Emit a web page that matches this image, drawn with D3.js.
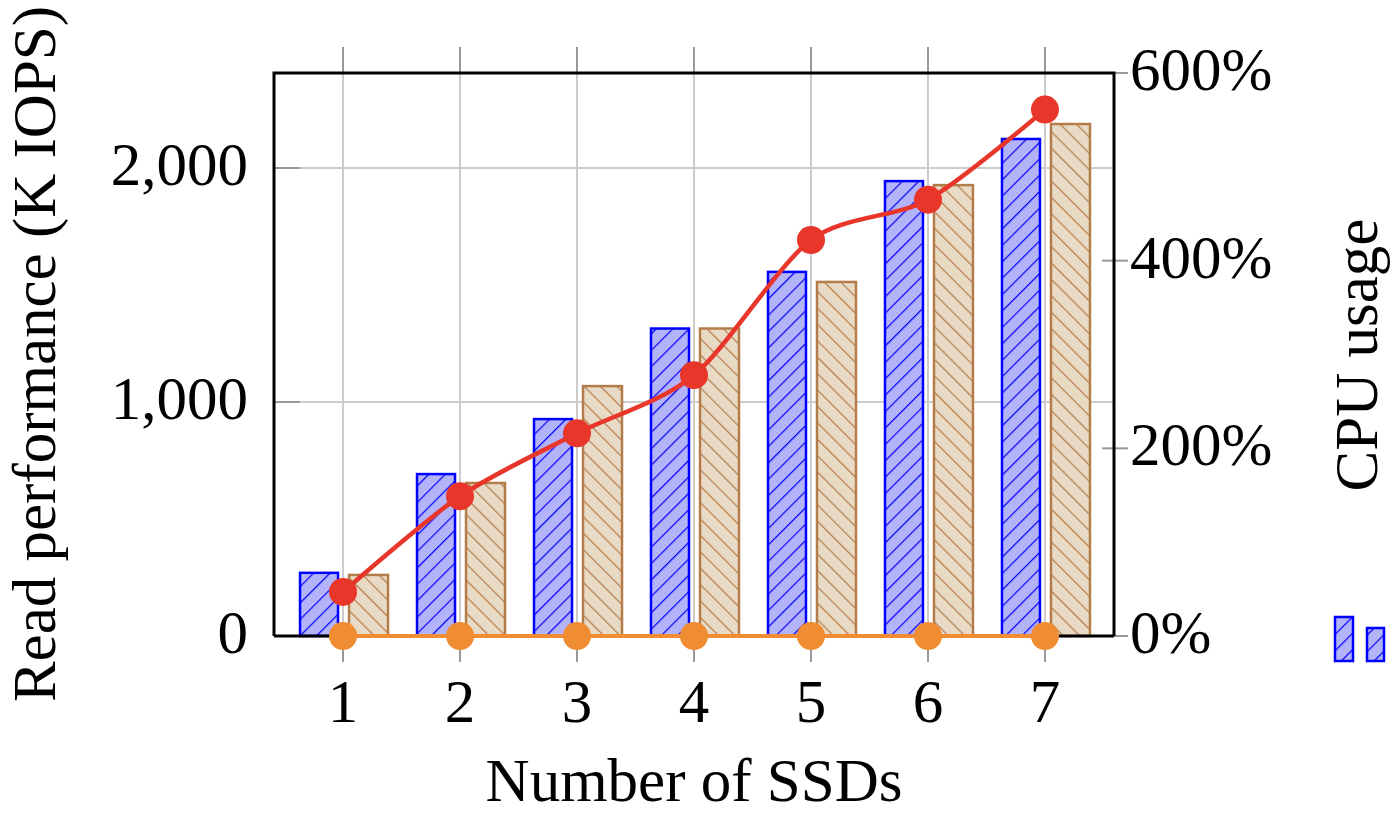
<!DOCTYPE html>
<html>
<head>
<meta charset="utf-8">
<script src="https://cdn.jsdelivr.net/npm/d3@7"></script>
<style>
  html, body { margin: 0; padding: 0; background: #fff; }
  svg { display: block; font-family: "Liberation Serif", "DejaVu Serif", serif; }
</style>
</head>
<body>
<svg id="chart" width="1393" height="815"></svg>
<script>
// Number of SSDs on the x axis
const ssds = [1, 2, 3, 4, 5, 6, 7];
// Read performance in K IOPS, two configurations
const iopsA = [270, 692, 927, 1314, 1556, 1944, 2124];
const iopsB = [261, 654, 1068, 1314, 1513, 1927, 2188];
// CPU usage (%) on the right axis
const cpuA = [47, 149, 216, 278, 422, 465, 561];
const cpuB = [0, 0, 0, 0, 0, 0, 0];
// Tick values
const leftTicks = [0, 1000, 2000];
const rightTicks = [0, 200, 400, 600];

const svg = d3.select("#chart");
const L = 274, R = 1114, T = 73, B = 636;
const FS = 61;

const x = d3.scaleLinear().domain([0.41, 7.59]).range([L, R]);
const yL = d3.scaleLinear().domain([0, 2406]).range([B, T]);
const yR = d3.scaleLinear().domain([0, 600]).range([B, T]);

// hatch patterns
const defs = svg.append("defs");
function hatch(id, angle, color) {
  const p = defs.append("pattern")
    .attr("id", id)
    .attr("patternUnits", "userSpaceOnUse")
    .attr("width", 11.6).attr("height", 11.6)
    .attr("patternTransform", `rotate(${angle})`);
  p.append("line").attr("x1", 0).attr("y1", -2).attr("x2", 0).attr("y2", 14)
    .attr("stroke", color).attr("stroke-width", 2.4);
}
hatch("hatchBlue", 45, "#0000ff");
hatch("hatchTan", -45, "#b47c4a");

// grid
const grid = svg.append("g");
grid.selectAll("line.v").data(ssds).join("line")
  .attr("x1", d => x(d)).attr("x2", d => x(d))
  .attr("y1", T).attr("y2", B)
  .attr("stroke", "#cccccc").attr("stroke-width", 2);
grid.selectAll("line.h").data(leftTicks.filter(d => d > 0)).join("line")
  .attr("x1", L).attr("x2", R)
  .attr("y1", d => yL(d)).attr("y2", d => yL(d))
  .attr("stroke", "#cccccc").attr("stroke-width", 2);

// ticks (outer x ticks, inner left ticks, crossing right ticks)
const ticks = svg.append("g").attr("stroke", "#999").attr("stroke-width", 2);
ticks.selectAll("line.xt").data(ssds).join("line")
  .attr("x1", d => x(d)).attr("x2", d => x(d)).attr("y1", T - 26).attr("y2", T);
ticks.selectAll("line.xb").data(ssds).join("line")
  .attr("x1", d => x(d)).attr("x2", d => x(d)).attr("y1", B).attr("y2", B + 26);
ticks.selectAll("line.yl").data(leftTicks).join("line")
  .attr("x1", L).attr("x2", L + 26).attr("y1", d => yL(d)).attr("y2", d => yL(d));
ticks.selectAll("line.yr").data(rightTicks).join("line")
  .attr("x1", R - 12).attr("x2", R + 14).attr("y1", d => yR(d)).attr("y2", d => yR(d));

// bars
const bars = svg.append("g");
function drawBars(vals, dx0, dx1, fill, stroke, pat) {
  const g = bars.append("g");
  const rect = (sel) => sel
    .attr("x", (d, i) => x(ssds[i]) + dx0)
    .attr("width", dx1 - dx0)
    .attr("y", d => yL(d))
    .attr("height", d => B - yL(d));
  g.selectAll("rect.f").data(vals).join("rect").call(rect).attr("fill", fill);
  g.selectAll("rect.p").data(vals).join("rect").call(rect)
    .attr("fill", `url(#${pat})`).attr("stroke", stroke).attr("stroke-width", 2.5);
}
drawBars(iopsA, -43, -5, "#b3b3fa", "#0000ff", "hatchBlue");
drawBars(iopsB, 6, 45, "#e9dac6", "#b47c4a", "hatchTan");

// frame
const frame = svg.append("g").attr("fill", "none").attr("stroke", "#000").attr("stroke-width", 3);
frame.append("path").attr("d", `M${L},${B}V${T}H${R}V${B}`);
frame.append("line").attr("x1", L).attr("x2", R).attr("y1", B).attr("y2", B);

// CPU usage lines
const lineB = d3.line().x((d, i) => x(ssds[i])).y(d => yR(d));
svg.append("path").datum(cpuB).attr("d", lineB)
  .attr("fill", "none").attr("stroke", "#f08c32").attr("stroke-width", 4);
svg.append("g").selectAll("circle").data(cpuB).join("circle")
  .attr("cx", (d, i) => x(ssds[i])).attr("cy", d => yR(d)).attr("r", 14)
  .attr("fill", "#f08c32");

const lineA = d3.line().x((d, i) => x(ssds[i])).y(d => yR(d))
  .curve(d3.curveCardinal.tension(0.15));
svg.append("path").datum(cpuA).attr("d", lineA)
  .attr("fill", "none").attr("stroke", "#e8362a").attr("stroke-width", 4.5);
svg.append("g").selectAll("circle").data(cpuA).join("circle")
  .attr("cx", (d, i) => x(ssds[i])).attr("cy", d => yR(d)).attr("r", 14)
  .attr("fill", "#e8362a");

// tick labels
const fmt = d3.format(",");
svg.append("g").selectAll("text").data(leftTicks).join("text")
  .attr("x", 248).attr("y", d => yL(d) + 17)
  .attr("text-anchor", "end").attr("font-size", FS).text(d => fmt(d));
svg.append("g").selectAll("text").data(rightTicks).join("text")
  .attr("x", 1130).attr("y", d => yR(d) + 17)
  .attr("font-size", FS).text(d => d + "%");
svg.append("g").selectAll("text").data(ssds).join("text")
  .attr("x", d => x(d)).attr("y", 722)
  .attr("text-anchor", "middle").attr("font-size", FS).text(d => d);

// axis titles
svg.append("text").attr("x", 694).attr("y", 801).attr("text-anchor", "middle")
  .attr("font-size", FS).text("Number of SSDs");
svg.append("text").attr("transform", "translate(55,354) rotate(-90)")
  .attr("text-anchor", "middle").attr("font-size", FS).text("Read performance (K IOPS)");
svg.append("text").attr("transform", "translate(1377,355) rotate(-90)")
  .attr("text-anchor", "middle").attr("font-size", FS).text("CPU usage");

// legend images (partially visible legend)
const legendSizes = [[1335, 617, 18, 44], [1367, 628, 17, 33]];
const lg = svg.append("g");
legendSizes.forEach(s => {
  lg.append("rect").attr("x", s[0]).attr("y", s[1]).attr("width", s[2]).attr("height", s[3])
    .attr("fill", "#b3b3fa");
  lg.append("rect").attr("x", s[0]).attr("y", s[1]).attr("width", s[2]).attr("height", s[3])
    .attr("fill", "url(#hatchBlue)").attr("stroke", "#0000ff").attr("stroke-width", 2.5);
});
</script>
</body>
</html>
